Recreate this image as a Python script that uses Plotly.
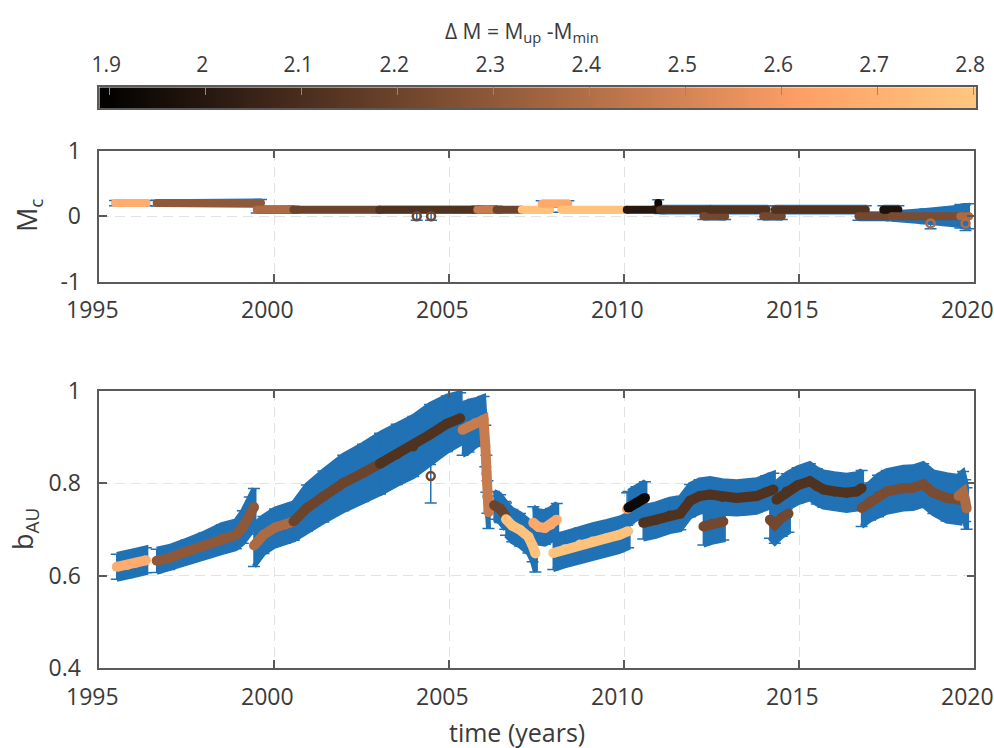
import plotly.graph_objects as go
from plotly.colors import sample_colorscale

# ---------------- data ----------------
cbar_ticks = [1.9, 2.0, 2.1, 2.2, 2.3, 2.4, 2.5, 2.6, 2.7, 2.8]
cbar_labels = ["1.9", "2", "2.1", "2.2", "2.3", "2.4", "2.5", "2.6", "2.7", "2.8"]
dm_limits = [1.8896, 2.803]

x_ticks = [1995, 2000, 2005, 2010, 2015, 2020]
mc_ticks = [-1, 0, 1]
mc_ticklabels = ["-1", "0", "1"]
bau_ticks = [0.4, 0.6, 0.8, 1.0]
bau_ticklabels = ["0.4", "0.6", "0.8", "1"]

# top panel (Mc): knots grouped by segment id
mc_seg = [1, 1, 2, 2, 3, 3, 4, 4, 5, 5, 6, 6, 7, 7, 8, 8, 9, 9, 10, 10, 11, 11, 12,
          13, 13, 14, 14, 15, 15, 16, 16, 17, 17, 18, 18, 19, 19, 20, 20, 20, 21, 21,
          22, 23, 24, 25]
mc_time = [1995.45, 1996.35, 1996.64, 1999.62, 1999.5, 2000.55, 2000.55, 2003.0,
           2003.0, 2005.8, 2005.8, 2006.35, 2006.35, 2007.07, 2007.07, 2007.88,
           2007.64, 2008.4, 2008.2, 2010.07, 2010.07, 2011.02, 2010.97,
           2011.02, 2012.45, 2012.26, 2012.88, 2012.45, 2014.07, 2013.97, 2014.5,
           2014.3, 2016.9, 2016.69, 2017.54, 2017.4, 2017.83, 2017.64, 2018.6, 2019.73,
           2019.6, 2019.85, 2004.07, 2004.48, 2018.75, 2019.75]
mc_value = [0.2, 0.2, 0.2, 0.2, 0.1, 0.1, 0.1, 0.1, 0.1, 0.1, 0.1, 0.1, 0.1, 0.1, 0.1, 0.1,
            0.19, 0.19, 0.1, 0.1, 0.1, 0.1, 0.2,
            0.1, 0.1, 0.0, 0.0, 0.1, 0.1, 0.0, 0.0, 0.1, 0.1, 0.0, 0.0, 0.1, 0.1,
            0.0, 0.0, 0.0, 0.0, 0.0, 0.0, 0.0, -0.11, -0.11]
mc_err = [0.04, 0.04, 0.045, 0.055, 0.05, 0.05, 0.04, 0.04, 0.045, 0.045, 0.05, 0.05,
          0.04, 0.04, 0.04, 0.04, 0.045, 0.045, 0.04, 0.04, 0.04, 0.04, 0.05,
          0.06, 0.06, 0.05, 0.05, 0.06, 0.06, 0.05, 0.05, 0.06, 0.06, 0.06, 0.06,
          0.06, 0.06, 0.07, 0.11, 0.17, 0.18, 0.19, 0.06, 0.06, 0.08, 0.11]
mc_seg_dm = [2.68, 2.30, 2.38, 2.20, 2.12, 2.46, 2.20, 2.78, 2.66, 2.78, 2.0, 1.93,
             2.12, 2.22, 2.12, 2.22, 2.12, 2.22, 1.97, 2.24, 2.38, 2.22, 2.22, 2.40, 2.40]
mc_open_segs = [22, 23, 24, 25]

# bottom panel (b_AU): knots grouped by segment id
bau_seg = [1] * 4 + [2] * 9 + [3] * 5 + [4] * 6 + [5] * 6 + [6] * 8 + [7] * 3 + [8] * 6 \
    + [9] * 5 + [10] * 7 + [11] * 1 + [12] * 3 + [13] * 13 + [14] * 10 + [15] * 3 \
    + [16] * 4 + [17] * 10 + [18] * 4 + [19] * 1
bau_time = [1995.5, 1995.8, 1996.05, 1996.33,
            1996.64, 1997.0, 1997.5, 1998.0, 1998.5, 1998.9, 1999.1, 1999.3, 1999.42,
            1999.42, 1999.69, 2000.02, 2000.3, 2000.55,
            2000.55, 2000.93, 2001.4, 2001.97, 2002.54, 2003.02,
            2003.02, 2003.5, 2003.97, 2004.45, 2004.93, 2005.31,
            2005.38, 2005.55, 2005.75, 2005.98, 2006.03, 2006.06, 2006.09, 2006.12,
            2006.28, 2006.45, 2006.6,
            2006.62, 2006.8, 2007.02, 2007.26, 2007.38, 2007.46,
            2007.4, 2007.55, 2007.73, 2007.9, 2008.07,
            2007.97, 2008.3, 2008.73, 2009.1, 2009.5, 2009.85, 2010.11,
            2010.08,
            2010.12, 2010.35, 2010.59,
            2010.54, 2010.9, 2011.3, 2011.6, 2011.88, 2012.15, 2012.45, 2012.8, 2013.21,
            2013.5, 2013.78, 2014.05, 2014.26,
            2014.35, 2014.64, 2014.95, 2015.3, 2015.5, 2015.69, 2016.0, 2016.35, 2016.64,
            2016.78,
            2012.26, 2012.5, 2012.83,
            2014.16, 2014.3, 2014.5, 2014.69,
            2016.78, 2017.02, 2017.25, 2017.5, 2017.97, 2018.25, 2018.54, 2018.83,
            2019.21, 2019.59,
            2019.55, 2019.68, 2019.74, 2019.78,
            2004.47]
bau_value = [0.619, 0.623, 0.628, 0.633,
             0.632, 0.638, 0.652, 0.665, 0.680, 0.688, 0.705, 0.730, 0.748,
             0.665, 0.688, 0.704, 0.710, 0.717,
             0.717, 0.746, 0.771, 0.800, 0.822, 0.842,
             0.842, 0.862, 0.879, 0.905, 0.928, 0.940,
             0.915, 0.922, 0.930, 0.937, 0.880, 0.820, 0.770, 0.737,
             0.752, 0.745, 0.730,
             0.722, 0.708, 0.699, 0.684, 0.665, 0.648,
             0.714, 0.705, 0.703, 0.710, 0.721,
             0.649, 0.657, 0.667, 0.674, 0.681, 0.688, 0.696,
             0.744,
             0.747, 0.757, 0.768,
             0.714, 0.720, 0.730, 0.734, 0.762, 0.772, 0.775, 0.770, 0.768,
             0.770, 0.772, 0.780, 0.786,
             0.764, 0.782, 0.795, 0.804, 0.793, 0.786, 0.782, 0.779, 0.782,
             0.789,
             0.706, 0.712, 0.717,
             0.721, 0.710, 0.725, 0.734,
             0.746, 0.760, 0.772, 0.782, 0.789, 0.790, 0.797, 0.779,
             0.768, 0.764,
             0.772, 0.780, 0.762, 0.745,
             0.815]
bau_err = [0.027, 0.027, 0.027, 0.027,
           0.025, 0.025, 0.025, 0.027, 0.03, 0.03, 0.035, 0.04, 0.04,
           0.045, 0.04, 0.04, 0.04, 0.04,
           0.04, 0.05, 0.055, 0.06, 0.062, 0.065,
           0.065, 0.065, 0.065, 0.065, 0.06, 0.055,
           0.055, 0.055, 0.05, 0.05, 0.045, 0.04, 0.035, 0.035,
           0.03, 0.03, 0.03,
           0.035, 0.035, 0.035, 0.035, 0.035, 0.04,
           0.035, 0.035, 0.035, 0.035, 0.035,
           0.036, 0.036, 0.036, 0.036, 0.036, 0.036, 0.036,
           0.035,
           0.035, 0.035, 0.035,
           0.035, 0.035, 0.035, 0.035, 0.035, 0.035, 0.035, 0.035, 0.035,
           0.035, 0.035, 0.035, 0.035,
           0.038, 0.038, 0.038, 0.038, 0.038, 0.038, 0.038, 0.038, 0.038,
           0.038,
           0.04, 0.04, 0.04,
           0.04, 0.04, 0.04, 0.04,
           0.04, 0.04, 0.045, 0.045, 0.045, 0.045, 0.045, 0.045,
           0.05, 0.05,
           0.045, 0.045, 0.045, 0.045,
           0.058]
bau_seg_dm = [2.68, 2.30, 2.38, 2.20, 2.12, 2.46, 2.20, 2.78, 2.66, 2.78, 2.62, 1.93,
              2.12, 2.12, 2.22, 2.22, 2.24, 2.38, 2.22]
bau_open_segs = [19]

# ---------------- style ----------------
FONT = "Open Sans"
TXT = "#3a3a3a"
AX = "#5a5a5a"
BLUE = "#2171b5"
GRID = "#e2e2e2"
copper = [[0.0, "rgb(0,0,0)"], [0.8, "rgb(255,159,102)"], [1.0, "rgb(255,199,127)"]]
W, H = 994, 748


def dm_color(v):
    frac = (v - dm_limits[0]) / (dm_limits[1] - dm_limits[0])
    return sample_colorscale(copper, [min(max(frac, 0), 1)])[0]


def groups(seg, t, v, e):
    out = {}
    for s, a, b, c in zip(seg, t, v, e):
        out.setdefault(s, ([], [], []))
        out[s][0].append(a)
        out[s][1].append(b)
        out[s][2].append(c)
    return out


fig = go.Figure()


def add_panel(seg, t, v, e, seg_dm, open_segs, xa, ya, band_w, cap_w, lw):
    g = groups(seg, t, v, e)
    # blue error bands / bars first
    for sid, (tt, vv, ee) in g.items():
        if len(tt) > 1:
            up = [a + b for a, b in zip(vv, ee)]
            lo = [a - b for a, b in zip(vv, ee)]
            fig.add_trace(go.Scatter(x=tt + tt[::-1], y=up + lo[::-1], mode="lines",
                                     fill="toself", fillcolor=BLUE,
                                     line=dict(color=BLUE, width=band_w),
                                     hoverinfo="skip", xaxis=xa, yaxis=ya))
        fig.add_trace(go.Scatter(x=tt, y=vv, mode="markers",
                                 marker=dict(size=1, opacity=0),
                                 error_y=dict(type="data", array=ee, color=BLUE,
                                              thickness=1.5, width=cap_w),
                                 hoverinfo="skip", xaxis=xa, yaxis=ya))
    # coloured points on top
    for sid, (tt, vv, ee) in g.items():
        dm = seg_dm[sid - 1]
        mk = dict(color=[dm] * len(tt), colorscale=copper,
                  cmin=dm_limits[0], cmax=dm_limits[1])
        if sid in open_segs:
            mk.update(symbol="circle-open", size=8, line=dict(width=2.5))
            fig.add_trace(go.Scatter(x=tt, y=vv, mode="markers", marker=mk,
                                     xaxis=xa, yaxis=ya))
        else:
            mk.update(size=lw)
            fig.add_trace(go.Scatter(x=tt, y=vv, mode="lines+markers", marker=mk,
                                     line=dict(color=dm_color(dm), width=lw),
                                     xaxis=xa, yaxis=ya))


add_panel(mc_seg, mc_time, mc_value, mc_err, mc_seg_dm, mc_open_segs, "x", "y", 2, 6, 8)
add_panel(bau_seg, bau_time, bau_value, bau_err, bau_seg_dm, bau_open_segs,
          "x2", "y2", 5, 6, 10)

# colour bar drawn as a heat strip on its own axis
fig.add_trace(go.Heatmap(x=cbar_ticks, y=[0], z=[cbar_ticks], zsmooth="best",
                         colorscale=copper, zmin=dm_limits[0], zmax=dm_limits[1],
                         showscale=False, hoverinfo="skip", xaxis="x3", yaxis="y3"))

xdom = [99.3 / W, 974.3 / W]
common = dict(showline=True, linecolor=AX, linewidth=1.5, mirror="ticks",
              ticks="inside", ticklen=8, tickwidth=1.5, tickcolor=AX,
              showgrid=True, gridcolor=GRID, griddash="10px,6px", gridwidth=1,
              zeroline=False, tickfont=dict(family=FONT, size=23, color=TXT),
              ticklabeloverflow="allow")
xcommon = dict(common, ticklabelstandoff=7, ticklabelshift=-7)
ycommon = dict(common, ticklabelstandoff=12)

fig.update_layout(
    width=W, height=H,
    margin=dict(l=0, r=0, t=0, b=0, autoexpand=False),
    paper_bgcolor="white", plot_bgcolor="white", showlegend=False,
    xaxis=dict(domain=xdom, anchor="y", range=[1995, 2020], tickvals=x_ticks, **xcommon),
    yaxis=dict(domain=[(H - 281.7) / H, (H - 150.7) / H], anchor="x", range=[-1, 1],
               tickvals=mc_ticks, ticktext=mc_ticklabels, **ycommon),
    xaxis2=dict(domain=xdom, anchor="y2", range=[1995, 2020], tickvals=x_ticks, **xcommon),
    yaxis2=dict(domain=[(H - 668.2) / H, (H - 390.5) / H], anchor="x2", range=[0.4, 1.0],
                tickvals=bau_ticks, ticktext=bau_ticklabels, **ycommon),
    xaxis3=dict(domain=[99.3 / W, 976.0 / W], anchor="y3", range=dm_limits, side="top",
                tickvals=cbar_ticks, ticktext=cbar_labels, ticks="inside", ticklen=8,
                tickwidth=1, tickcolor="#8a8a8a", showline=True, mirror=True,
                linecolor=AX, linewidth=1.5, showgrid=False, zeroline=False,
                tickfont=dict(family=FONT, size=21, color=TXT), ticklabelstandoff=5,
                ticklabelshift=-3, ticklabeloverflow="allow"),
    yaxis3=dict(domain=[(H - 108.3) / H, (H - 87.3) / H], anchor="x3", range=[-0.5, 0.5],
                showticklabels=False, ticks="", showline=True, mirror=True,
                linecolor=AX, linewidth=1.5, showgrid=False, zeroline=False),
    annotations=[
        dict(text="Δ M = M<sub>up</sub> -M<sub>min</sub>", xref="paper", yref="paper",
             x=522 / W, y=1 - 32 / H, xanchor="center", yanchor="middle",
             showarrow=False, font=dict(family=FONT, size=21, color=TXT)),
        dict(text="M<sub>c</sub>", xref="paper", yref="paper", textangle=-90,
             x=28 / W, y=1 - 216 / H, xanchor="center", yanchor="middle",
             showarrow=False, font=dict(family=FONT, size=27, color=TXT)),
        dict(text="b<sub>AU</sub>", xref="paper", yref="paper", textangle=-90,
             x=24 / W, y=1 - 529 / H, xanchor="center", yanchor="middle",
             showarrow=False, font=dict(family=FONT, size=27, color=TXT)),
        dict(text="time (years)", xref="paper", yref="paper",
             x=517 / W, y=1 - 732 / H, xanchor="center", yanchor="middle",
             showarrow=False, font=dict(family=FONT, size=25, color=TXT)),
    ],
)

fig.write_html("out.html", config={"displayModeBar": False},
               post_script="document.body.style.margin='0px';"
                           "document.body.style.overflow='hidden';")
